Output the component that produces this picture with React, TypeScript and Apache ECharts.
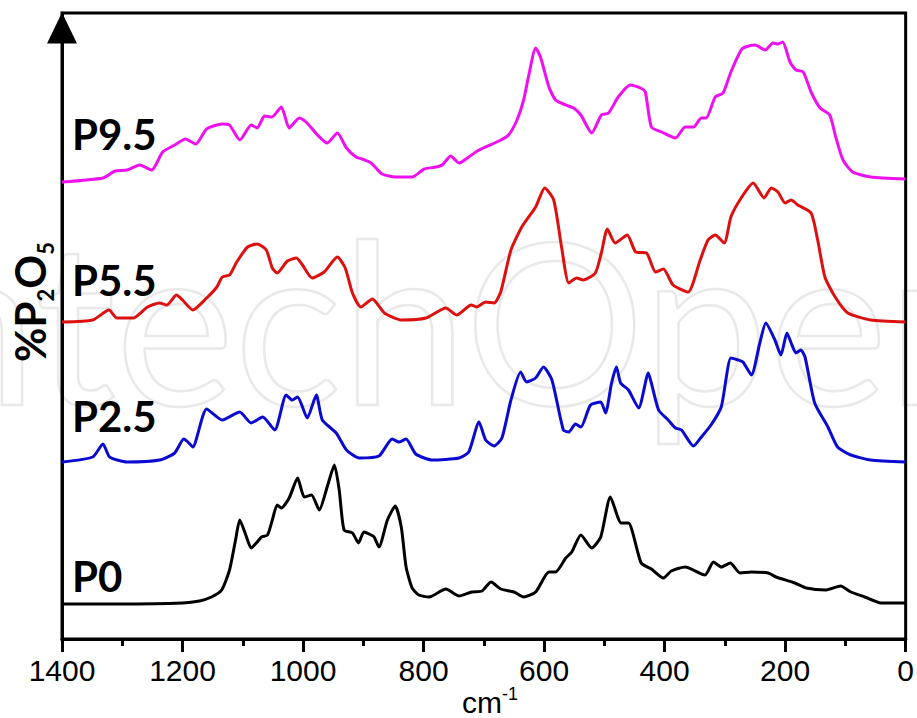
import { useEffect, useRef } from 'react';
import * as echarts from 'echarts';

// x axis (wavenumber, cm-1), reversed
const X_MIN = 0;
const X_MAX = 1400;
const X_STEP = 200;
const Y_MIN = 0;
const Y_MAX = 626;

const SERIES_NAMES = ['P0', 'P2.5', 'P5.5', 'P9.5'];
const SERIES_COLORS = ['#000000', '#0a0ad0', '#dd1010', '#ee10ee'];

// [wavenumber, stacked intensity]
const P0: [number, number][] = [
  [1400, 35], [1304, 35], [1200, 36], [1172, 38], [1152, 42], [1135, 49], [1122, 69], [1112, 99], [1105, 119],
  [1095, 104], [1086, 91], [1076, 97], [1069, 102], [1059, 104], [1051, 119], [1043, 134], [1036, 131],
  [1023, 141], [1009, 161], [998, 142], [986, 144], [973, 129], [960, 152], [948, 174], [940, 149],
  [932, 109], [918, 106], [908, 96], [899, 107], [887, 104], [882, 102], [874, 92], [860, 119], [847, 133],
  [837, 112], [829, 72], [819, 51], [808, 44], [791, 42], [763, 50], [741, 43], [720, 47], [703, 48],
  [688, 57], [672, 50], [650, 47], [634, 42], [614, 47], [592, 67], [581, 67], [564, 81], [554, 87],
  [539, 104], [521, 91], [506, 102], [490, 142], [472, 116], [460, 116], [439, 76], [422, 70], [402, 61],
  [389, 68], [366, 72], [333, 64], [319, 77], [306, 72], [291, 76], [275, 66], [256, 67], [228, 66],
  [215, 62], [184, 56], [165, 51], [132, 49], [108, 53], [91, 47], [68, 42], [41, 36], [0, 36],
];

const P2_5: [number, number][] = [
  [1400, 177], [1349, 182], [1332, 195], [1321, 182], [1292, 177], [1238, 179], [1213, 186], [1198, 200],
  [1191, 197], [1183, 192], [1160, 230], [1134, 219], [1105, 227], [1086, 216], [1067, 222], [1047, 209],
  [1028, 244], [1018, 239], [1009, 242], [993, 221], [978, 244], [968, 219], [945, 206], [928, 189],
  [907, 181], [874, 183], [852, 200], [841, 197], [829, 200], [813, 185], [786, 179], [741, 181],
  [725, 187], [708, 217], [697, 199], [683, 193], [670, 201], [655, 239], [639, 267], [629, 257],
  [614, 261], [601, 272], [587, 259], [568, 209], [559, 207], [548, 215], [539, 212], [523, 234],
  [506, 237], [498, 226], [488, 256], [480, 272], [473, 256], [460, 249], [443, 231], [427, 266],
  [422, 256], [410, 229], [394, 219], [382, 211], [372, 209], [352, 193], [339, 202], [323, 214],
  [306, 232], [290, 281], [278, 279], [270, 277], [256, 264], [242, 296], [232, 316], [217, 299],
  [207, 284], [197, 306], [190, 296], [182, 286], [174, 289], [167, 282], [151, 236], [129, 212],
  [113, 192], [91, 184], [58, 179], [0, 177],
];

const P5_5: [number, number][] = [
  [1400, 317], [1349, 319], [1322, 329], [1309, 321], [1282, 321], [1258, 332], [1238, 336], [1226, 334],
  [1210, 344], [1200, 339], [1183, 329], [1160, 341], [1143, 352], [1134, 362], [1122, 364], [1110, 377],
  [1092, 392], [1076, 395], [1061, 389], [1051, 371], [1043, 366], [1026, 378], [1011, 381], [1001, 374],
  [985, 361], [965, 367], [943, 382], [930, 371], [918, 346], [904, 332], [885, 340], [865, 326],
  [836, 319], [796, 321], [763, 331], [745, 324], [721, 334], [712, 332], [697, 337], [683, 336],
  [672, 347], [655, 389], [637, 412], [614, 432], [599, 451], [584, 439], [571, 392], [559, 356],
  [546, 361], [535, 359], [515, 366], [505, 386], [495, 410], [482, 396], [462, 404], [448, 387],
  [430, 386], [415, 367], [402, 370], [386, 354], [361, 347], [341, 379], [328, 399], [316, 404],
  [301, 396], [290, 422], [273, 441], [253, 456], [235, 441], [223, 451], [212, 447], [200, 436],
  [190, 439], [179, 434], [157, 426], [146, 399], [134, 362], [117, 342], [96, 326], [58, 319], [0, 317],
];

const P9_5: [number, number][] = [
  [1400, 457], [1332, 461], [1312, 468], [1292, 469], [1271, 474], [1251, 469], [1233, 487], [1213, 494],
  [1195, 500], [1178, 495], [1160, 510], [1134, 515], [1122, 514], [1105, 499], [1086, 514], [1076, 511],
  [1064, 523], [1052, 522], [1036, 532], [1023, 511], [1006, 521], [995, 517], [976, 504], [960, 496],
  [943, 506], [928, 491], [912, 482], [902, 480], [887, 476], [869, 465], [846, 462], [819, 462],
  [799, 470], [779, 472], [769, 474], [755, 483], [741, 476], [725, 482], [708, 489], [675, 498],
  [659, 504], [645, 519], [634, 539], [626, 562], [614, 591], [606, 582], [592, 552], [581, 539],
  [564, 534], [551, 531], [539, 524], [521, 506], [505, 524], [493, 526], [477, 542], [457, 554],
  [440, 551], [432, 547], [422, 512], [405, 507], [382, 501], [366, 512], [352, 512], [339, 521],
  [331, 521], [316, 542], [303, 546], [290, 567], [273, 589], [266, 592], [250, 594], [233, 589],
  [220, 596], [212, 595], [204, 597], [192, 577], [182, 569], [170, 567], [157, 547], [142, 531],
  [126, 524], [116, 502], [104, 479], [88, 467], [58, 462], [0, 460],
];

const SERIES_DATA = [P0, P2_5, P5_5, P9_5];

const CURVE_LABELS = ['P9.5', 'P5.5', 'P2.5', 'P0'];
const CURVE_LABEL_Y = [134, 280, 416, 576];

export default function App() {
  const ref = useRef<HTMLDivElement>(null);

  useEffect(() => {
    if (!ref.current) return;
    const chart = echarts.init(ref.current, null, { renderer: 'svg' });

    const graphic: any[] = [
      {
        type: 'text',
        x: -150,
        y: 318,
        z: -10,
        silent: true,
        style: {
          text: 'IntechOpen',
          fontSize: 225,
          fontFamily: 'Lato',
          fill: 'none',
          stroke: '#e9e9e9',
          lineWidth: 2.5,
          verticalAlign: 'middle',
        },
      },
      ...CURVE_LABELS.map((t, i) => ({
        type: 'text',
        x: 72,
        y: CURVE_LABEL_Y[i],
        z: 10,
        style: {
          text: t,
          fontSize: 42,
          fontWeight: 'bold',
          fontFamily: 'Lato',
          fill: '#000',
          verticalAlign: 'middle',
        },
      })),
      {
        type: 'text',
        x: 30,
        y: 302,
        rotation: Math.PI / 2,
        z: 10,
        style: {
          text: '{m|%P}{s|2}{m|O}{s|5}',
          align: 'center',
          verticalAlign: 'middle',
          rich: {
            m: { fontSize: 42, fontWeight: 'bold', fontFamily: 'Lato', lineHeight: 42, fill: '#000' },
            s: { fontSize: 22, fontWeight: 'bold', fontFamily: 'Lato', lineHeight: 22, padding: [30, 0, 0, 0], fill: '#000' },
          },
        },
      },
      {
        type: 'text',
        x: 462,
        y: 702,
        style: { text: 'cm', fontSize: 30, fontFamily: 'Liberation Sans', fill: '#000', verticalAlign: 'middle' },
      },
      {
        type: 'text',
        x: 502,
        y: 694,
        style: { text: '-1', fontSize: 18, fontFamily: 'Liberation Sans', fill: '#000', verticalAlign: 'middle' },
      },
    ];

    chart.setOption({
      animation: false,
      backgroundColor: '#fff',
      grid: {
        left: 62,
        right: 7,
        top: 13,
        bottom: 79,
        show: true,
        borderColor: '#000',
        borderWidth: 3,
        backgroundColor: 'transparent',
      },
      xAxis: {
        type: 'value',
        inverse: true,
        min: X_MIN,
        max: X_MAX,
        interval: X_STEP,
        axisLine: { show: true, lineStyle: { color: '#000', width: 3 } },
        axisTick: { show: true, length: 13, lineStyle: { color: '#000', width: 3 } },
        minorTick: { show: true, splitNumber: 2, length: 7, lineStyle: { color: '#000', width: 3 } },
        axisLabel: {
          fontSize: 30,
          fontFamily: 'Liberation Sans',
          color: '#000',
          margin: 16,
          showMinLabel: true,
          showMaxLabel: true,
          formatter: (v: number) => String(v),
        },
        splitLine: { show: false },
      },
      yAxis: {
        type: 'value',
        position: 'left',
        min: Y_MIN,
        max: Y_MAX,
        axisLine: {
          show: true,
          onZero: false,
          symbol: ['none', 'triangle'],
          symbolSize: [30, 31],
          symbolOffset: [0, -15],
          lineStyle: { color: '#000', width: 3 },
        },
        axisTick: { show: false },
        axisLabel: { show: false },
        splitLine: { show: false },
      },
      series: SERIES_DATA.map((d, i) => ({
        name: SERIES_NAMES[i],
        type: 'line',
        data: d,
        showSymbol: false,
        smooth: 0.2,
        lineStyle: { color: SERIES_COLORS[i], width: 3 },
        itemStyle: { color: SERIES_COLORS[i] },
        z: 3,
      })),
      graphic,
    });

    return () => chart.dispose();
  }, []);

  return (
    <div
      ref={ref}
      style={{ position: 'absolute', left: 0, top: 0, width: 917, height: 718, background: '#fff' }}
    />
  );
}
